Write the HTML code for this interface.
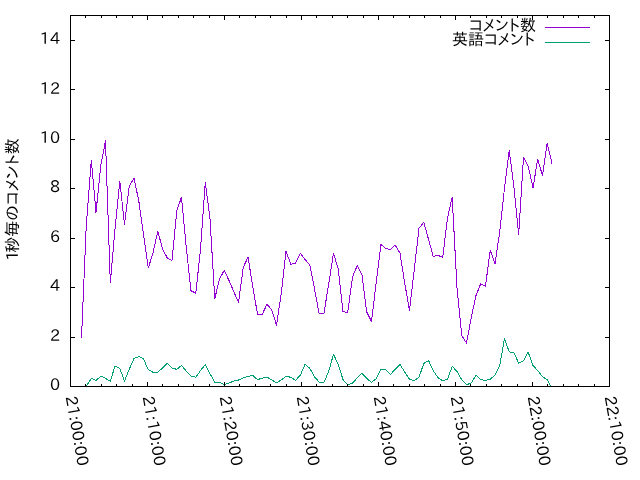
<!DOCTYPE html>
<html lang="ja"><head><meta charset="utf-8"><title>1秒毎のコメント数</title>
<style>
html,body{margin:0;padding:0;background:#fff;}
body{width:640px;height:480px;overflow:hidden;}
svg{display:block;}
text{font-family:"IPAPGothic","Liberation Sans","IPAGothic",sans-serif;font-size:16px;fill:#000;}
</style></head><body>
<svg width="640" height="480" viewBox="0 0 640 480">
<rect width="640" height="480" fill="#fff"/>
<defs><clipPath id="c"><rect x="70" y="15" width="540" height="372"/></clipPath></defs>
<g fill="none" stroke-width="1" stroke-linejoin="round" shape-rendering="crispEdges">
<polyline clip-path="url(#c)" stroke="#9400d3" points="81.5,338.0 86.2,227.0 91.3,160.0 96.0,212.5 100.8,165.0 105.5,141.0 110.3,283.0 115.0,229.0 119.8,181.0 124.5,224.5 129.3,186.0 134.0,178.0 138.8,201.0 143.5,234.0 148.3,268.0 153.0,253.0 157.8,231.0 162.5,249.0 167.3,258.0 172.0,260.5 176.8,210.6 181.5,197.2 186.3,247.8 191.0,290.8 195.8,293.1 200.5,249.4 205.3,182.0 210.0,219.0 214.8,298.6 219.5,279.0 224.3,270.2 229.0,280.6 233.8,291.6 238.5,302.5 243.3,267.3 248.0,257.2 252.8,286.6 257.5,314.2 262.3,314.2 267.0,304.2 271.8,310.0 276.5,325.2 281.3,293.0 286.0,251.2 290.8,264.2 295.5,263.1 300.3,253.3 305.0,259.5 309.8,265.0 314.5,288.8 319.2,314.0 324.0,313.0 328.7,284.0 333.5,253.3 338.2,268.9 343.0,311.6 347.7,312.5 352.5,277.0 357.2,265.6 362.0,275.3 366.7,312.0 371.5,321.4 376.2,282.6 381.0,244.4 385.7,248.6 390.5,249.4 395.2,245.0 400.0,253.3 404.7,283.0 409.5,310.5 414.2,270.0 419.0,228.3 423.7,222.3 428.5,239.2 433.2,256.4 438.0,255.3 442.7,257.5 447.5,218.0 452.2,197.0 457.0,288.0 461.7,335.2 466.5,343.1 471.2,317.8 476.0,295.6 480.7,283.7 485.5,286.1 490.2,250.2 495.0,263.6 499.7,232.0 504.5,188.0 509.2,150.2 514.0,188.0 518.7,234.5 523.5,157.2 528.2,166.2 533.0,187.8 537.7,159.2 542.5,175.6 547.2,143.1 552.0,163.6"/>
<polyline clip-path="url(#c)" stroke="#009e73" points="81.5,386.5 86.2,386.5 91.3,378.4 96.0,380.5 100.8,376.1 105.5,378.4 110.3,381.1 115.0,366.2 119.8,368.3 124.5,381.2 129.3,369.0 134.0,358.6 138.8,356.6 143.5,358.9 148.3,369.8 153.0,372.2 157.8,372.2 162.5,368.0 167.3,363.3 172.0,368.0 176.8,369.4 181.5,365.5 186.3,371.1 191.0,376.1 195.8,377.3 200.5,370.6 205.3,364.4 210.0,373.8 214.8,382.3 219.5,382.3 224.3,384.7 229.0,383.1 233.8,381.1 238.5,380.0 243.3,378.0 248.0,376.4 252.8,375.3 257.5,379.7 262.3,378.1 267.0,377.2 271.8,380.0 276.5,382.7 281.3,380.0 286.0,376.2 290.8,377.3 295.5,380.3 300.3,375.3 305.0,364.4 309.8,368.3 314.5,376.9 319.2,382.0 324.0,382.3 328.7,371.4 333.5,354.2 338.2,364.4 343.0,379.7 347.7,384.7 352.5,383.1 357.2,378.0 362.0,373.3 366.7,378.4 371.5,382.3 376.2,378.8 381.0,369.4 385.7,369.4 390.5,374.5 395.2,369.2 400.0,364.4 404.7,372.0 409.5,379.2 414.2,380.5 419.0,377.3 423.7,363.6 428.5,360.5 433.2,370.6 438.0,377.7 442.7,380.9 447.5,379.2 452.2,366.4 457.0,371.4 461.7,379.7 466.5,384.7 471.2,383.1 476.0,375.3 480.7,379.5 485.5,380.5 490.2,379.2 495.0,375.3 499.7,365.9 504.5,338.6 509.2,351.9 514.0,352.9 518.7,363.1 523.5,360.6 528.2,352.3 533.0,365.5 537.7,370.6 542.5,376.9 547.2,379.5 552.0,389.0"/>
<path stroke="#9400d3" d="M545,27.5H590"/>
<path stroke="#009e73" d="M545,42.5H590"/>
</g>
<g fill="none" stroke="#000" stroke-width="1" shape-rendering="crispEdges">
<path d="M85.9,386.5v-2.5M85.9,15.5v2.5M101.3,386.5v-2.5M101.3,15.5v2.5M116.7,386.5v-2.5M116.7,15.5v2.5M132.1,386.5v-2.5M132.1,15.5v2.5M147.5,386.5v-4.5M147.5,15.5v4.5M162.9,386.5v-2.5M162.9,15.5v2.5M178.3,386.5v-2.5M178.3,15.5v2.5M193.7,386.5v-2.5M193.7,15.5v2.5M209.1,386.5v-2.5M209.1,15.5v2.5M224.5,386.5v-4.5M224.5,15.5v4.5M239.9,386.5v-2.5M239.9,15.5v2.5M255.3,386.5v-2.5M255.3,15.5v2.5M270.7,386.5v-2.5M270.7,15.5v2.5M286.1,386.5v-2.5M286.1,15.5v2.5M301.5,386.5v-4.5M301.5,15.5v4.5M316.9,386.5v-2.5M316.9,15.5v2.5M332.3,386.5v-2.5M332.3,15.5v2.5M347.7,386.5v-2.5M347.7,15.5v2.5M363.1,386.5v-2.5M363.1,15.5v2.5M378.5,386.5v-4.5M378.5,15.5v4.5M393.9,386.5v-2.5M393.9,15.5v2.5M409.3,386.5v-2.5M409.3,15.5v2.5M424.7,386.5v-2.5M424.7,15.5v2.5M440.1,386.5v-2.5M440.1,15.5v2.5M455.5,386.5v-4.5M455.5,15.5v4.5M470.9,386.5v-2.5M470.9,15.5v2.5M486.3,386.5v-2.5M486.3,15.5v2.5M501.7,386.5v-2.5M501.7,15.5v2.5M517.1,386.5v-2.5M517.1,15.5v2.5M532.5,386.5v-4.5M532.5,15.5v4.5M547.9,386.5v-2.5M547.9,15.5v2.5M563.3,386.5v-2.5M563.3,15.5v2.5M578.7,386.5v-2.5M578.7,15.5v2.5M594.1,386.5v-2.5M594.1,15.5v2.5M70.5,337.0h4.5M609.5,337.0h-4.5M70.5,287.6h4.5M609.5,287.6h-4.5M70.5,238.1h4.5M609.5,238.1h-4.5M70.5,188.6h4.5M609.5,188.6h-4.5M70.5,139.2h4.5M609.5,139.2h-4.5M70.5,89.7h4.5M609.5,89.7h-4.5M70.5,40.2h4.5M609.5,40.2h-4.5"/>
<rect x="70.5" y="15.5" width="539.0" height="371.0"/>
</g>
<g>
<text x="60" y="390.3" text-anchor="end">0</text><text x="60" y="340.8" text-anchor="end">2</text><text x="60" y="291.4" text-anchor="end">4</text><text x="60" y="241.9" text-anchor="end">6</text><text x="60" y="192.4" text-anchor="end">8</text><text x="60" y="143.0" text-anchor="end">10</text><text x="60" y="93.5" text-anchor="end">12</text><text x="60" y="44.0" text-anchor="end">14</text>
<text transform="translate(71.0,396) rotate(80)" x="0" y="5.5">21:00:00</text><text transform="translate(148.0,396) rotate(80)" x="0" y="5.5">21:10:00</text><text transform="translate(225.0,396) rotate(80)" x="0" y="5.5">21:20:00</text><text transform="translate(302.0,396) rotate(80)" x="0" y="5.5">21:30:00</text><text transform="translate(379.0,396) rotate(80)" x="0" y="5.5">21:40:00</text><text transform="translate(456.0,396) rotate(80)" x="0" y="5.5">21:50:00</text><text transform="translate(533.0,396) rotate(80)" x="0" y="5.5">22:00:00</text><text transform="translate(610.0,396) rotate(80)" x="0" y="5.5">22:10:00</text>
<text transform="translate(18,199.5) rotate(-90)" text-anchor="middle">1<tspan dx="-2">秒毎のコメント数</tspan></text>
<text x="536" y="30.5" text-anchor="end">コメント数</text>
<text x="535" y="45" text-anchor="end">英語コメント</text>
</g>
</svg>
</body></html>
